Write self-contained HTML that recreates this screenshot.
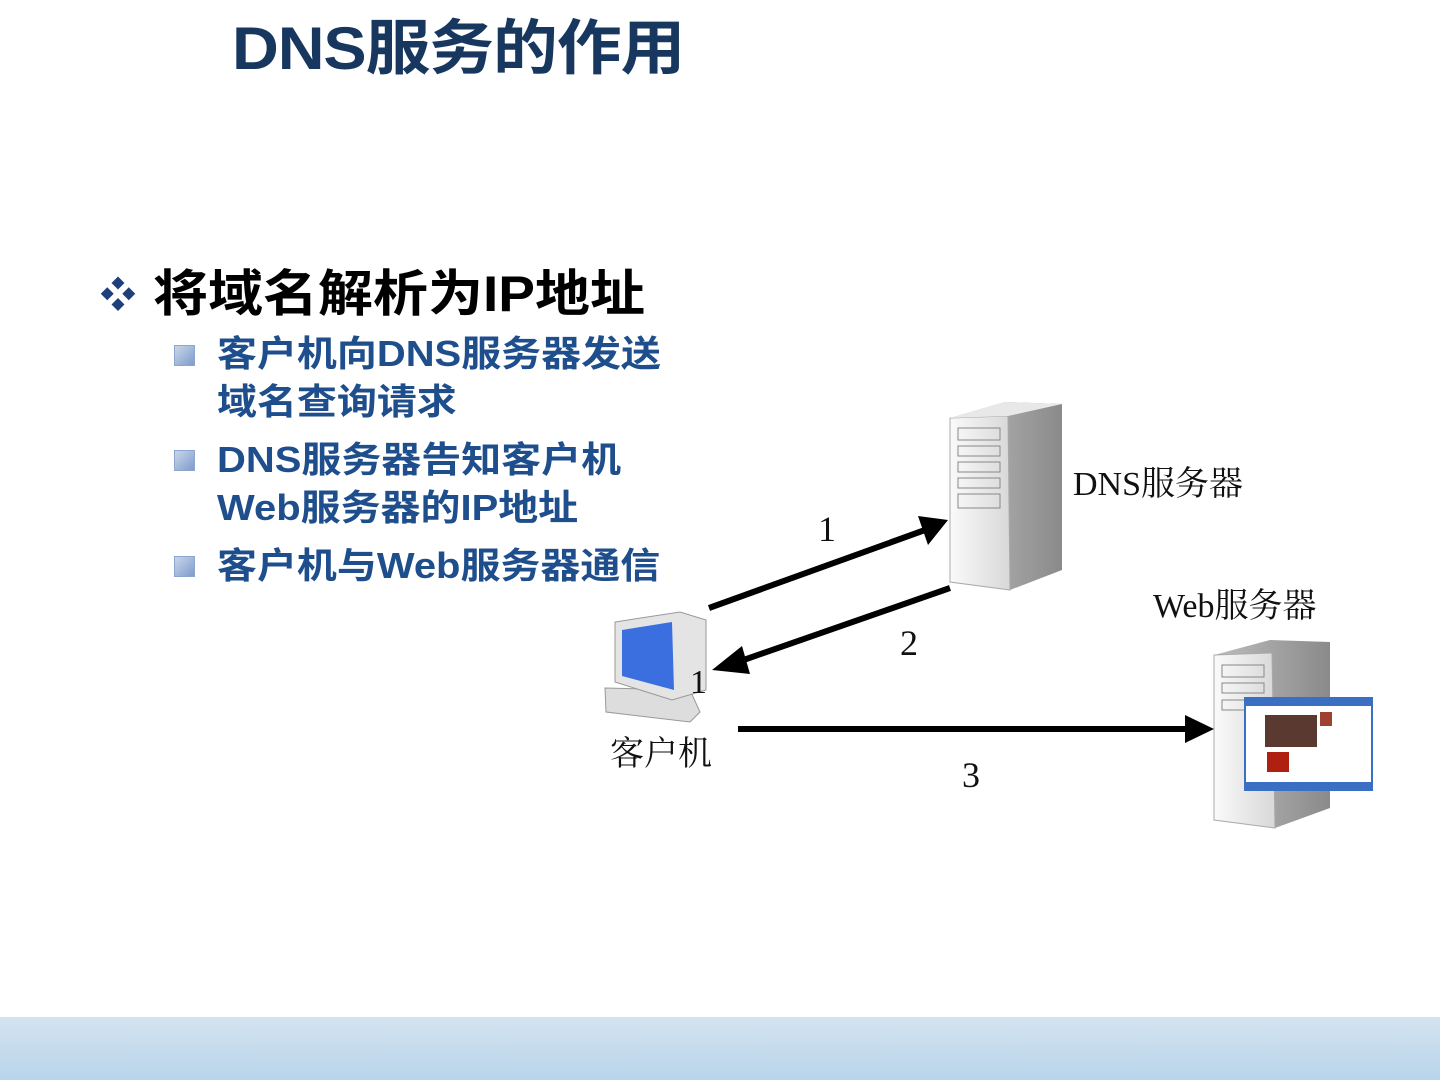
<!DOCTYPE html>
<html><head><meta charset="utf-8"><style>
body{margin:0;width:1440px;height:1080px;background:#fff;position:relative;overflow:hidden;font-family:"Liberation Sans","Noto Sans CJK SC",sans-serif}
.a{position:absolute;white-space:nowrap}
.t{left:232px;top:0px;font-size:60px;font-weight:bold;color:#17375e;letter-spacing:-1px;transform:scaleX(1.08);transform-origin:0 0}
.b{left:153px;top:254px;font-size:50px;font-weight:bold;color:#000;transform:scaleX(1.1);transform-origin:0 0}
.s{font-size:36px;font-weight:bold;color:#1f4e8c;left:217px;line-height:48px;transform:scaleX(1.11);transform-origin:0 0}
.sq{position:absolute;width:19px;height:19px;background:linear-gradient(135deg,#c9d6ea,#7f9ccc);border:1px solid #8ea6cf;left:174px}
.serif{font-family:"Liberation Serif","Noto Serif CJK SC",serif;color:#111}
.bot{left:0;top:1017px;width:1440px;height:63px;background:linear-gradient(#d4e3f1,#b8d5ea)}
</style></head><body>
<div class="a t">DNS服务的作用</div>
<div class="a" style="left:100px;top:266px;font-size:36px;color:#1f3f7a">❖</div>
<div class="a b">将域名解析为IP地址</div>
<div class="sq" style="top:345px"></div>
<div class="a s" style="top:330px">客户机向DNS服务器发送<br>域名查询请求</div>
<div class="sq" style="top:450px"></div>
<div class="a s" style="top:436px">DNS服务器告知客户机<br>Web服务器的IP地址</div>
<div class="sq" style="top:556px"></div>
<div class="a s" style="top:542px">客户机与Web服务器通信</div>

<svg class="a" style="left:0;top:0" width="1440" height="1080">
<defs><linearGradient id="g" x1="0" x2="1"><stop offset="0" stop-color="#fafafa"/><stop offset="1" stop-color="#d8d8d8"/></linearGradient>
<linearGradient id="g2" x1="0" x2="1"><stop offset="0" stop-color="#bdbdbd"/><stop offset="1" stop-color="#8a8a8a"/></linearGradient></defs>
<polygon points="950,418 1005,402 1062,404 1062,570 1010,590 950,582" fill="url(#g2)"/>
<polygon points="950,418 1008,416 1010,590 950,582" fill="url(#g)" stroke="#aaa"/>
<polygon points="950,418 1005,402 1062,404 1008,416" fill="#e8e8e8"/>
<g stroke="#888" fill="none"><rect x="958" y="428" width="42" height="12"/><rect x="958" y="446" width="42" height="10"/><rect x="958" y="462" width="42" height="10"/><rect x="958" y="478" width="42" height="10"/><rect x="958" y="494" width="42" height="14"/></g>
<polygon points="1214,655 1270,640 1330,642 1330,808 1275,828 1214,820" fill="url(#g2)"/>
<polygon points="1214,655 1272,653 1275,828 1214,820" fill="url(#g)" stroke="#aaa"/>
<g stroke="#888" fill="none"><rect x="1222" y="665" width="42" height="12"/><rect x="1222" y="683" width="42" height="10"/><rect x="1222" y="700" width="42" height="10"/></g>
<rect x="1245" y="698" width="127" height="92" fill="#fff" stroke="#3a6fc4" stroke-width="2"/>
<rect x="1245" y="698" width="127" height="8" fill="#3a6fc4"/>
<rect x="1265" y="715" width="52" height="32" fill="#5a3a30"/>
<rect x="1267" y="752" width="22" height="20" fill="#b02010"/>
<rect x="1320" y="712" width="12" height="14" fill="#a04030"/>
<rect x="1245" y="782" width="127" height="8" fill="#3a6fc4"/>
<polygon points="605,688 690,690 700,712 690,722 606,712" fill="#ddd" stroke="#999"/>
<polygon points="615,622 680,612 706,620 706,690 672,700 615,682" fill="#e4e4e4" stroke="#999"/>
<polygon points="622,630 672,622 674,690 622,676" fill="#3b6fe0"/>
<g stroke="#000" stroke-width="6" fill="#000">
<line x1="709" y1="608" x2="925" y2="530"/><polygon points="948,520 918,516 928,545" stroke="none"/>
<line x1="950" y1="588" x2="735" y2="663"/><polygon points="712,670 742,646 750,674" stroke="none"/>
<line x1="738" y1="729" x2="1190" y2="729"/><polygon points="1214,729 1185,715 1185,743" stroke="none"/>
</g>
</svg>
<div class="a serif" style="left:1073px;top:456px;font-size:34px">DNS服务器</div>
<div class="a serif" style="left:1153px;top:578px;font-size:34px">Web服务器</div>
<div class="a serif" style="left:610px;top:726px;font-size:34px">客户机</div>
<div class="a serif" style="left:818px;top:508px;font-size:36px">1</div>
<div class="a serif" style="left:900px;top:622px;font-size:36px">2</div>
<div class="a serif" style="left:962px;top:754px;font-size:36px">3</div>
<div class="a serif" style="left:690px;top:664px;font-size:34px">1</div>
<div class="a bot"></div>
</body></html>
